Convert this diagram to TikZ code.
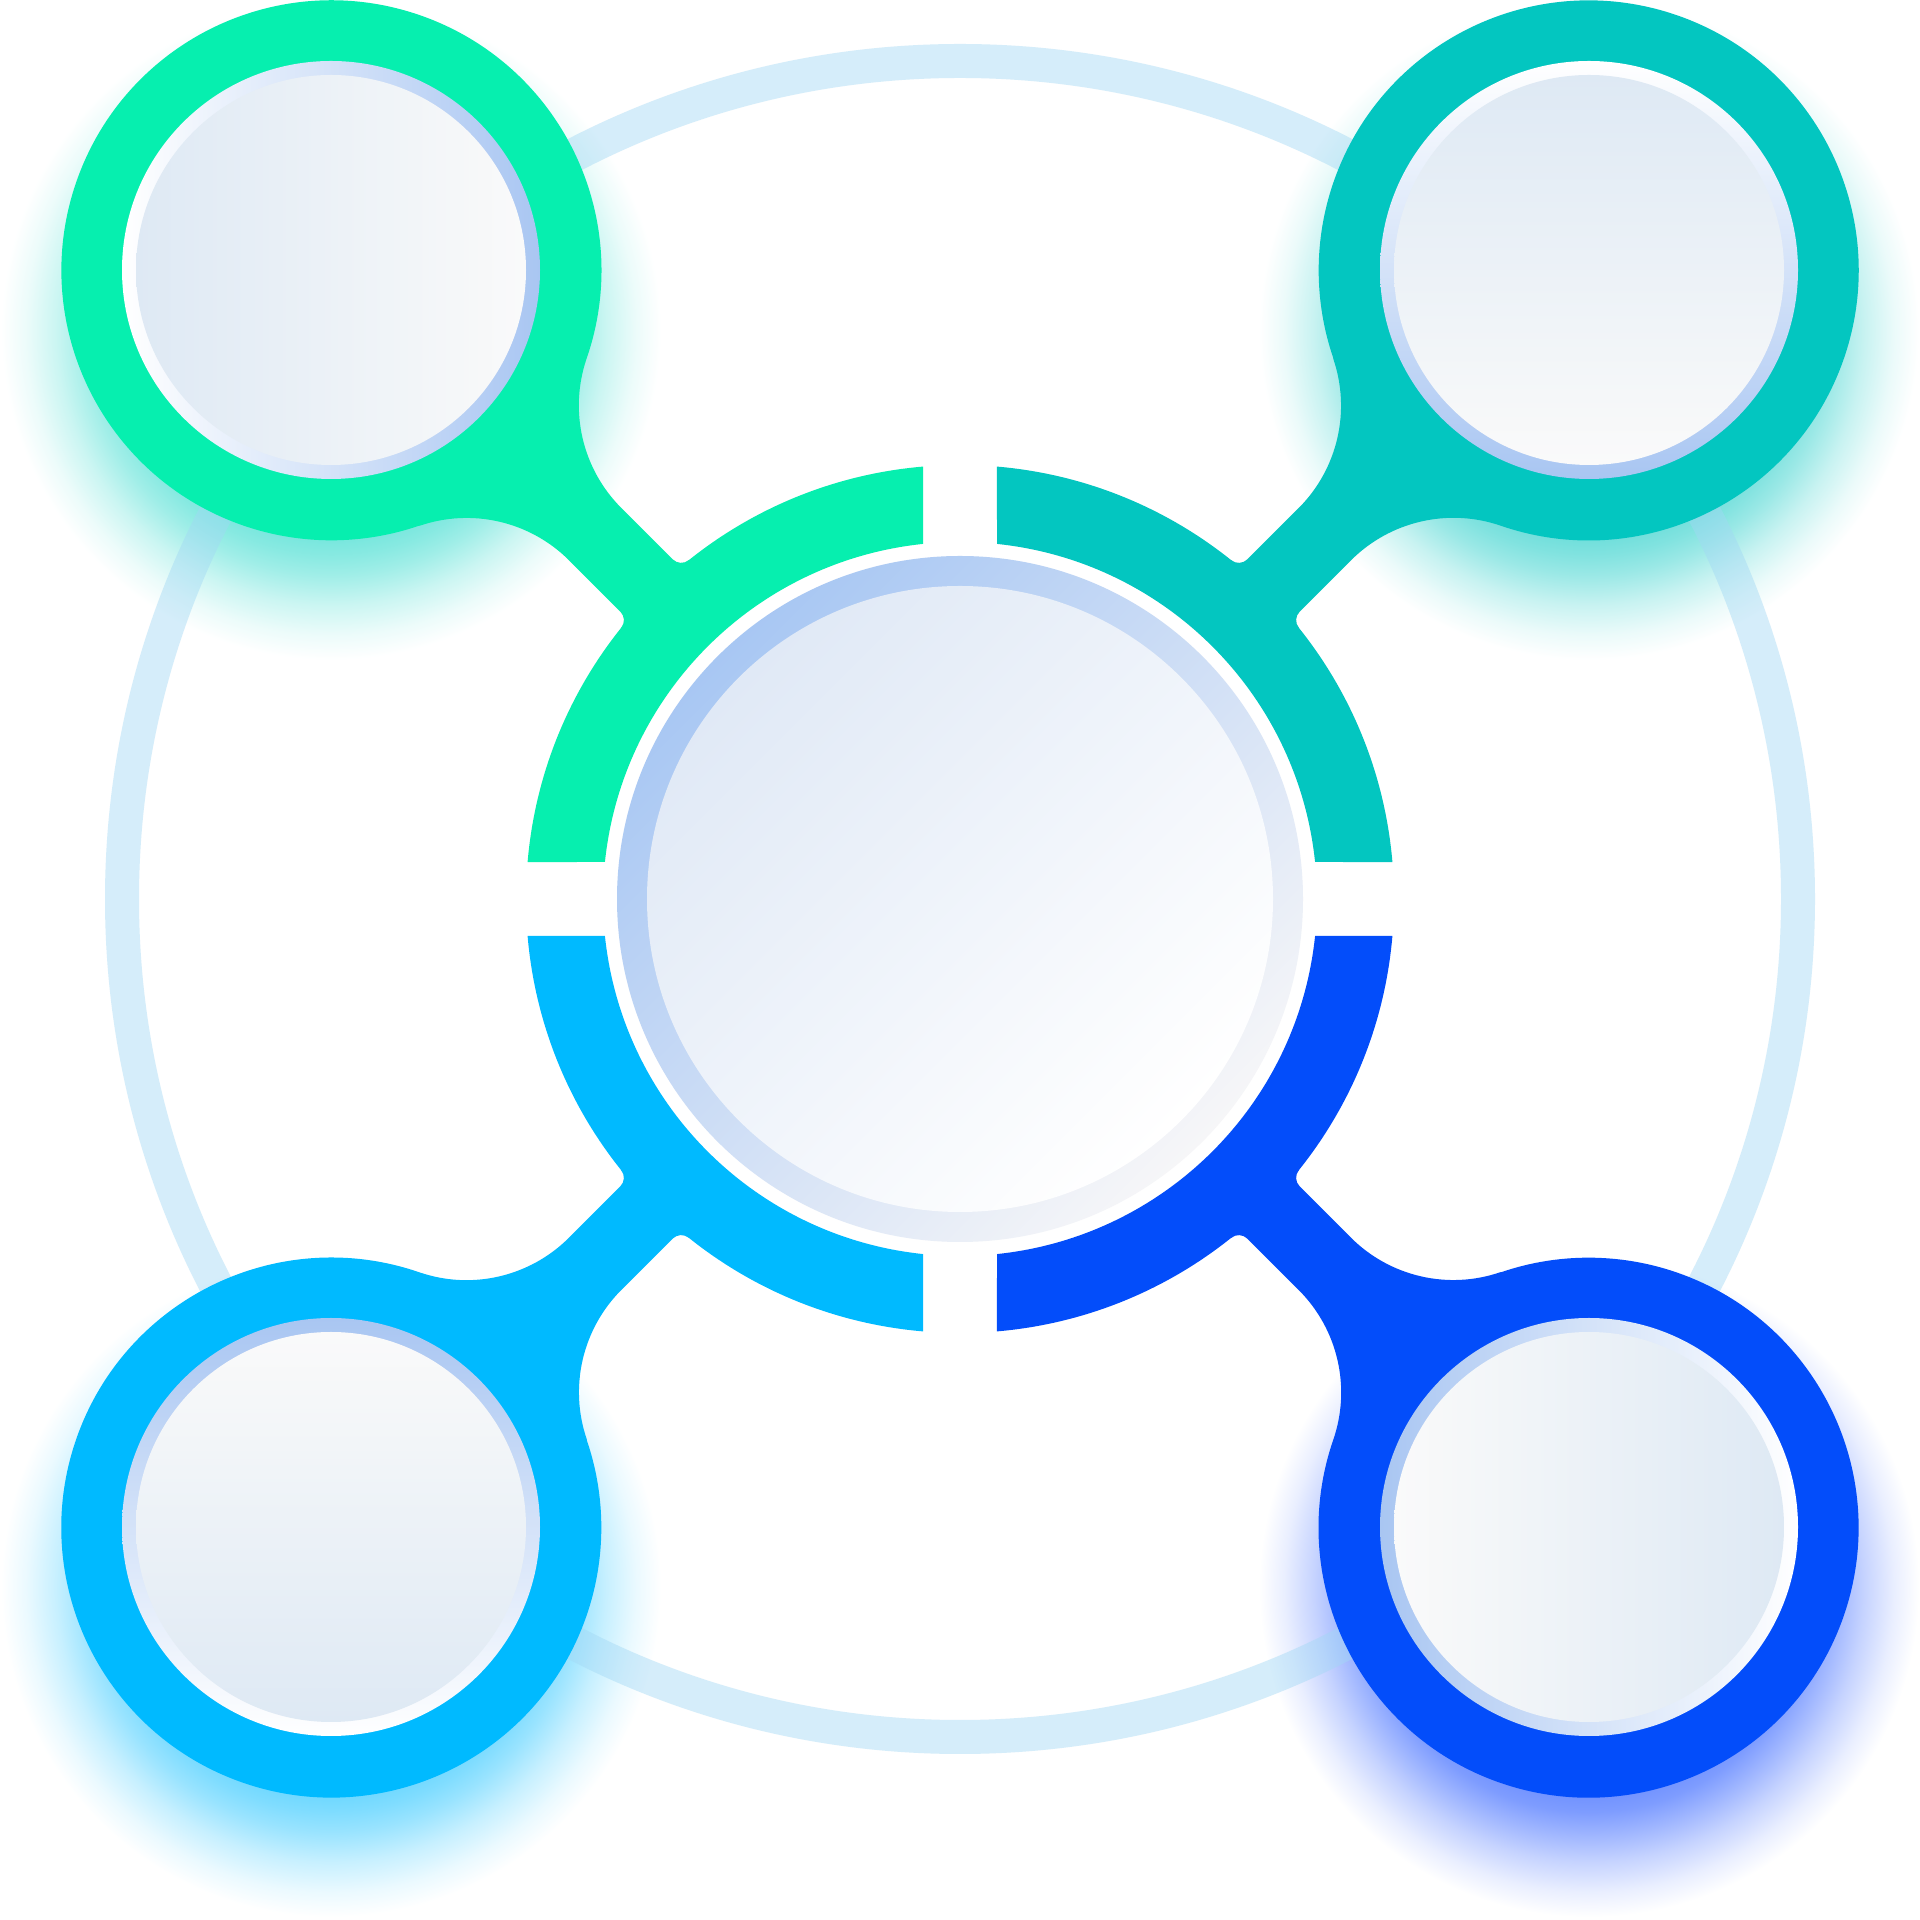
\documentclass[tikz,border=0pt]{standalone}
\definecolor{cgreen}{HTML}{06EFAF}
\definecolor{cteal}{HTML}{03C6C0}
\definecolor{csky}{HTML}{00BAFF}
\definecolor{cblue}{HTML}{034DFA}
\definecolor{bandc}{HTML}{A2D8F4}
\definecolor{gTL}{HTML}{10D4C4}
\definecolor{gTR}{HTML}{03C6C0}
\definecolor{gBL}{HTML}{00BAFF}
\definecolor{gBR}{HTML}{1048FF}
\definecolor{ringb}{HTML}{A9C6F2}
\definecolor{fillb}{HTML}{DEE9F4}
\definecolor{fillw}{HTML}{FAFAFA}
\definecolor{cring}{HTML}{A8C7F3}
\definecolor{cringw}{HTML}{F6F6F8}
\definecolor{cfill}{HTML}{E0E9F6}
\pgfdeclareradialshading{glowTL}{\pgfpointorigin}{color(0bp)=(gTL!60!white); color(15.15bp)=(gTL!60!white); color(17.05bp)=(gTL!50!white); color(18.56bp)=(gTL!40!white); color(20.83bp)=(gTL!22!white); color(23.1bp)=(gTL!8!white); color(25bp)=(white); color(50bp)=(white)}
\pgfdeclareradialshading{glowTR}{\pgfpointorigin}{color(0bp)=(gTR!60!white); color(15.15bp)=(gTR!60!white); color(17.05bp)=(gTR!50!white); color(18.56bp)=(gTR!40!white); color(20.83bp)=(gTR!22!white); color(23.1bp)=(gTR!8!white); color(25bp)=(white); color(50bp)=(white)}
\pgfdeclareradialshading{glowBL}{\pgfpointorigin}{color(0bp)=(gBL!60!white); color(15.15bp)=(gBL!60!white); color(17.05bp)=(gBL!50!white); color(18.56bp)=(gBL!40!white); color(20.83bp)=(gBL!22!white); color(23.1bp)=(gBL!8!white); color(25bp)=(white); color(50bp)=(white)}
\pgfdeclareradialshading{glowBR}{\pgfpointorigin}{color(0bp)=(gBR!62!white); color(15.15bp)=(gBR!62!white); color(17.05bp)=(gBR!54!white); color(18.56bp)=(gBR!42!white); color(20.83bp)=(gBR!24!white); color(23.1bp)=(gBR!9!white); color(25bp)=(white); color(50bp)=(white)}
\begin{document}
\begin{tikzpicture}[x=1pt,y=1pt]
\useasboundingbox[fill=white] (0,0) rectangle (1920,1920);
\coordinate (C) at (960,1021);
\coordinate (TL) at (331,1650);
\coordinate (TR) at (1589,1650);
\coordinate (BL) at (331,393);
\coordinate (BR) at (1589,393);
% glows (soft drop shadows)
\shade[shading=glowTL] (331,1590) circle[radius=330];
\shade[shading=glowTR] (1589,1590) circle[radius=330];
\shade[shading=glowBL] (331,333) circle[radius=330];
\shade[shading=glowBR] (1589,333) circle[radius=330];
% background ring
\draw[bandc, opacity=0.45, line width=34pt] (C) circle[radius=838];
% coloured parts: corner disc + arm as one outline, and the quarter ring
\foreach \ang/\q/\col in {135/90/cgreen, 45/0/cteal, 225/180/csky, 315/270/cblue} {
  \begin{scope}[shift={(C)}, rotate=\ang]
    \fill[\col] (646.1,118.4) arc[start angle=-26.0, end angle=-90, radius=145]
      -- (443.3,37) arc[start angle=-90, end angle=-173.7, radius=12]
      -- (400,40) -- (400,-40) -- (431.4,-47.7)
      arc[start angle=173.7, end angle=90, radius=12]
      -- (516,-37) arc[start angle=90, end angle=26.0, radius=145]
      arc[start angle=-154, end angle=154, radius=270] -- cycle;
  \end{scope}
  \begin{scope}[shift={(C)}]
    \fill[\col] ({\q+4.888}:434) arc[start angle={\q+4.888}, end angle={\q+85.112}, radius=434]
      -- ({\q+84.051}:357) arc[start angle={\q+84.051}, end angle={\q+5.949}, radius=357] -- cycle;
  \end{scope}
}
% corner inner circles
\shade[left color=white, right color=ringb] (TL) circle[radius=209];
\shade[left color=fillb, right color=fillw] (TL) circle[radius=195];
\shade[top color=white, bottom color=ringb] (TR) circle[radius=209];
\shade[top color=fillb, bottom color=fillw] (TR) circle[radius=195];
\shade[top color=ringb, bottom color=white] (BL) circle[radius=209];
\shade[top color=fillw, bottom color=fillb] (BL) circle[radius=195];
\shade[left color=ringb, right color=white] (BR) circle[radius=209];
\shade[left color=fillw, right color=fillb] (BR) circle[radius=195];
% centre circle
\shade[top color=cring, bottom color=cringw, shading angle=45] (C) circle[radius=343];
\shade[top color=cfill, bottom color=white, shading angle=45] (C) circle[radius=313];
\end{tikzpicture}
\end{document}
